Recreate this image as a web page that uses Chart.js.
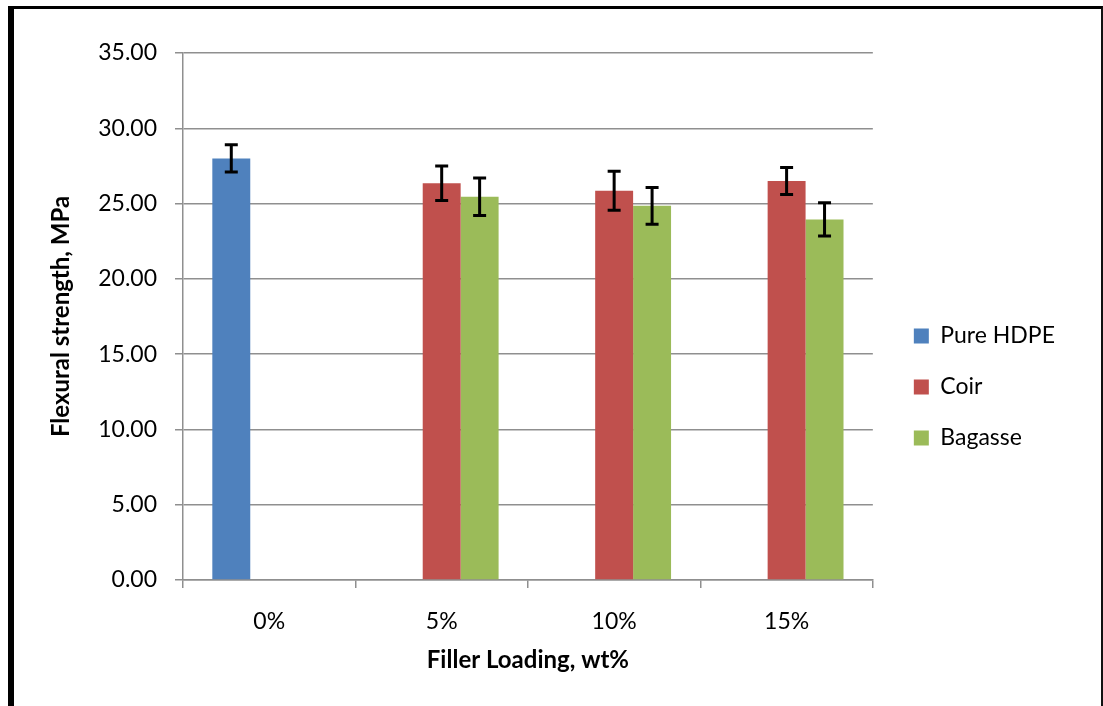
<!DOCTYPE html>
<html>
<head>
<meta charset="utf-8">
<title>Flexural strength</title>
<script src="https://cdn.jsdelivr.net/npm/chart.js@4.4.1/dist/chart.umd.min.js"></script>
<style>
  body { margin: 0; background: #fff; }
  #wrap { position: relative; width: 1103px; height: 706px; overflow: hidden; }
  #frame {
    position: absolute; left: 8px; top: 6px; right: 0; bottom: -20px;
    border-left: 6px solid #000; border-top: 3px solid #000; border-right: 2px solid #111;
    pointer-events: none;
  }
</style>
</head>
<body>
<div id="wrap">
  <canvas id="myChart" width="1103" height="706"></canvas>
  <div id="frame"></div>
</div>
<script>
// data
const categories = ['0%', '5%', '10%', '15%'];
const pureHdpe = [28.0, null, null, null];
const pureHdpeErr = [0.9, null, null, null];
const coir = [null, 26.35, 25.85, 26.5];
const coirErr = [null, 1.15, 1.3, 0.9];
const bagasse = [null, 25.45, 24.85, 23.95];
const bagasseErr = [null, 1.25, 1.22, 1.1];
const yTicks = [0, 5, 10, 15, 20, 25, 30, 35];

const gridColor = '#8f8f8f';
const tickFont = {family: 'Lato', size: 23};
const titleFont = {family: 'Lato', size: 24, weight: 'bold'};

// error bars, drawn from each bar's own x and the y scale
const errorBars = {
  id: 'errorBars',
  afterDatasetsDraw(chart) {
    const ctx = chart.ctx;
    const yScale = chart.scales.y;
    ctx.save();
    ctx.strokeStyle = '#000';
    ctx.lineWidth = 3;
    chart.data.datasets.forEach((ds, di) => {
      const meta = chart.getDatasetMeta(di);
      ds.data.forEach((v, i) => {
        const err = ds.errors[i];
        if (v == null || err == null) return;
        const x = meta.data[i].x;
        const top = yScale.getPixelForValue(v + err);
        const bottom = yScale.getPixelForValue(v - err);
        ctx.beginPath();
        ctx.moveTo(x, top); ctx.lineTo(x, bottom);
        ctx.moveTo(x - 6.5, top); ctx.lineTo(x + 6.5, top);
        ctx.moveTo(x - 6.5, bottom); ctx.lineTo(x + 6.5, bottom);
        ctx.stroke();
      });
    });
    ctx.restore();
  }
};

const myChart = document.getElementById('myChart');

let barChart = new Chart(myChart, {
  type: 'bar',
  data: {
    labels: categories,
    datasets: [
      {label: 'Pure HDPE', data: pureHdpe, errors: pureHdpeErr, backgroundColor: '#4F81BD'},
      {label: 'Coir', data: coir, errors: coirErr, backgroundColor: '#C0504D'},
      {label: 'Bagasse', data: bagasse, errors: bagasseErr, backgroundColor: '#9BBB59'}
    ]
  },
  options: {
    responsive: false,
    animation: false,
    categoryPercentage: 0.66,
    barPercentage: 1.0,
    layout: {padding: {top: 53, bottom: 0, left: 0, right: 40}},
    plugins: {
      tooltip: {enabled: false},
      legend: {
        position: 'right',
        title: {display: true, text: '', font: {size: 1, lineHeight: 1}, padding: {top: 0, bottom: 14}},
        labels: {
          color: '#000',
          font: tickFont,
          boxWidth: 15,
          boxHeight: 15,
          padding: 28
        }
      }
    },
    scales: {
      x: {
        grid: {display: true, drawOnChartArea: false, color: gridColor, lineWidth: 1.5, tickLength: 8},
        border: {display: true, color: gridColor, width: 1.5},
        ticks: {color: '#000', font: tickFont, padding: 20},
        title: {display: true, text: 'Filler Loading, wt%', color: '#000', font: titleFont, padding: {top: 0, bottom: 31}},
        afterFit(s) { s.height = 126; }
      },
      y: {
        min: 0,
        max: 35,
        grid: {color: gridColor, lineWidth: 1.5, tickLength: 8},
        border: {display: true, color: gridColor, width: 1.5},
        afterBuildTicks(s) { s.ticks = yTicks.map(v => ({value: v})); },
        ticks: {color: '#000', font: tickFont, padding: 18, callback: v => v.toFixed(2)},
        title: {display: true, text: 'Flexural strength, MPa', color: '#000', font: titleFont, padding: {top: 47, bottom: 0}},
        afterFit(s) { s.width = 183; }
      },
      // empty axis, only keeps a gap between plot and legend
      y2: {
        position: 'right',
        display: true,
        grid: {display: false},
        border: {display: false},
        ticks: {display: false},
        afterFit(s) { s.width = 13; }
      }
    }
  },
  plugins: [errorBars]
});
</script>
</body>
</html>
